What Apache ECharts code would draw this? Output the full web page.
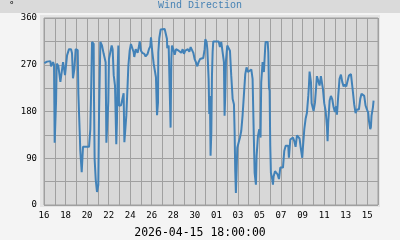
<!DOCTYPE html>
<html>
<head>
<meta charset="utf-8">
<script src="https://cdn.jsdelivr.net/npm/echarts@6/dist/echarts.min.js"></script>
<style>
html,body{margin:0;padding:0;background:#f4f4f4;}
#c{width:400px;height:240px;}
</style>
</head>
<body>
<div id="c"></div>
<script>
// Day labels every 2 days starting Mar 16 (x = days since Mar 16 00:00)
var dayLabels = ['16','18','20','22','24','26','28','30','01','03','05','07','09','11','13','15'];
var yTickLabels = [0, 90, 180, 270, 360];
var titleText = 'Wind Direction';
var unitText = '\u00b0';
var timeText = '2026-04-15 18:00:00';

// time in days since Mar 16 00:00
var days = [
0.03,0.28,0.59,0.65,0.84,0.93,0.96,0.99,1.09,1.12,1.18,1.33,1.46,1.52,1.67,1.77,1.89,1.95,2.07,2.14,
2.32,2.51,2.60,2.69,2.82,2.94,3.13,3.19,3.31,3.37,3.50,3.62,3.81,4.18,4.30,4.36,4.46,4.61,4.64,4.70,
4.80,4.92,5.04,5.11,5.23,5.38,5.54,5.72,5.79,5.91,5.97,6.03,6.16,6.28,6.37,6.47,6.59,6.71,6.77,6.84,
6.90,6.96,7.15,7.39,7.46,7.58,7.64,7.77,7.83,7.95,8.07,8.20,8.32,8.38,8.51,8.69,8.82,8.88,9.00,9.12,
9.31,9.43,9.62,9.74,9.87,9.93,10.05,10.18,
10.27,10.39,10.49,10.58,10.61,10.70,10.83,11.01,11.20,11.32,11.41,11.44,11.57,11.69,11.75,11.82,11.88,12.00,12.13,12.25,
12.37,12.50,12.62,12.74,12.87,12.99,13.11,13.24,13.36,13.49,13.61,13.73,13.86,13.98,14.10,14.23,14.35,14.48,14.60,14.78,
14.91,14.97,15.09,15.16,15.28,15.34,15.40,15.46,15.53,15.59,15.65,15.71,15.96,16.21,16.33,16.45,16.58,16.70,16.76,16.82,
16.89,17.01,17.13,17.26,17.38,17.51,17.63,17.69,17.75,17.81,17.88,17.94,18.06,18.19,18.31,18.43,18.56,18.68,18.80,18.93,
19.05,19.24,19.36,19.48,19.55,19.67,19.73,19.86,19.98,20.10,20.16,20.29,20.41,20.54,
20.57,20.76,20.82,20.88,20.94,21.00,21.06,21.19,21.25,21.31,21.44,21.56,21.68,21.81,21.93,22.05,22.18,22.24,22.30,22.43,
22.55,22.67,22.73,22.86,22.98,23.11,23.23,23.35,23.48,23.60,23.72,23.85,23.97,24.03,24.16,24.28,24.40,24.53,24.59,24.65,
24.71,24.78,24.84,25.02,25.15,25.27,25.33,25.46,25.58,25.70,25.83,25.89,26.01,26.14,26.20,26.26,26.32,26.38,26.51,26.63,
26.75,26.88,27.00,27.12,27.19,27.31,27.43,27.56,27.68,27.81,27.93,28.05,28.18,28.30,28.49,28.61,28.67,28.79,28.92,29.04,
29.17,29.23,29.35,29.47,29.60,29.72,29.85,29.97,30.09,30.16,30.28,30.34,30.40,30.53,30.59
];
var dir = [
273,276,277,267,275,270,197,120,120,200,272,268,265,237,237,275,275,250,252,288,
300,300,292,244,262,300,298,214,143,104,63,112,112,112,146,204,314,310,207,88,
49,25,39,178,314,307,291,275,120,120,200,281,280,307,300,250,230,117,160,262,
307,191,192,215,121,121,172,236,268,297,310,310,294,285,300,293,306,315,297,293,
291,286,291,300,306,323,295,272,
272,246,173,197,294,321,338,339,339,339,320,302,307,305,149,281,307,300,289,300,
302,297,300,293,300,291,297,295,300,295,304,305,293,281,275,267,275,281,281,283,
300,319,314,300,243,175,210,95,139,249,294,315,315,315,304,314,294,275,172,210,
278,307,308,297,249,204,194,143,65,23,68,110,120,130,143,172,214,252,265,256,
259,261,243,126,62,39,94,133,146,130,236,275,256,307,
314,314,294,226,220,114,62,49,39,55,65,62,59,50,72,72,72,88,104,114,
117,114,91,126,125,130,123,112,134,136,128,107,91,110,146,166,177,210,230,257,
257,236,196,181,197,230,248,248,230,248,248,223,196,181,178,152,123,159,201,210,
204,188,179,190,174,210,243,251,237,228,232,228,239,249,252,249,218,194,177,184,
181,184,204,214,217,210,191,184,178,162,146,150,172,188,201
];

var data = days.map(function (d, i) { return [d, dir[i]]; });

var chart = echarts.init(document.getElementById('c'), null, {renderer: 'canvas'});
var mono = 'DejaVu Sans Mono';
chart.setOption({
  animation: false,
  backgroundColor: '#f4f4f4',
  graphic: [
    {type: 'rect', z: -10, shape: {x: 0, y: 0, width: 400, height: 13}, style: {fill: '#dadada'}},
    {type: 'rect', z: -10, shape: {x: 40, y: 15, width: 340, height: 192}, style: {fill: '#e4e4e4'}},
    {type: 'text', z: 10, left: 9, top: 1, style: {text: unitText, font: '9px ' + mono, fill: '#000'}},
    {type: 'text', z: 10, left: 'center', top: 0, style: {text: titleText, font: '10px "Liberation Mono"', fill: '#4682b4'}},
    {type: 'text', z: 10, left: 'center', top: 227, style: {text: timeText, font: '11.5px ' + mono, fill: '#000'}}
  ],
  grid: {
    left: 44, top: 18, width: 334, height: 187,
    show: true, backgroundColor: '#d8d8d8', borderColor: '#a0a0a0', borderWidth: 1,
    containLabel: false
  },
  xAxis: {
    type: 'value', min: 0, max: 31, interval: 1,
    axisLine: {show: false}, axisTick: {show: false},
    splitLine: {show: true, lineStyle: {color: '#a0a0a0', width: 1}},
    axisLabel: {
      margin: 6, color: '#000', fontFamily: mono, fontSize: 9,
      showMaxLabel: false,
      formatter: function (v) {
        var r = Math.round(v);
        return (r % 2 === 0 && dayLabels[r / 2] !== undefined) ? dayLabels[r / 2] : '';
      }
    }
  },
  yAxis: {
    type: 'value', min: 0, max: 360, interval: 45,
    axisLine: {show: false}, axisTick: {show: false},
    splitLine: {show: true, lineStyle: {color: '#a0a0a0', width: 1}},
    axisLabel: {
      margin: 7, color: '#000', fontFamily: mono, fontSize: 9,
      formatter: function (v) { return yTickLabels.indexOf(v) >= 0 ? String(v) : ''; }
    }
  },
  series: [{
    type: 'line', data: data, showSymbol: false, symbol: 'none',
    lineStyle: {color: '#4282b8', width: 2},
    z: 5
  }]
});
</script>
</body>
</html>
